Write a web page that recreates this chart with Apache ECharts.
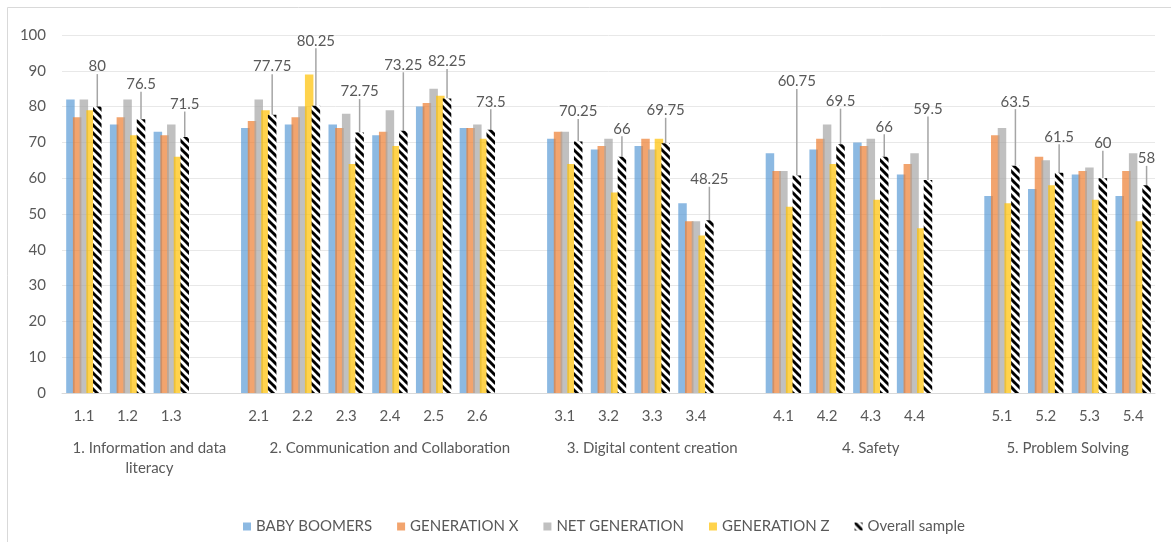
<!DOCTYPE html>
<html>
<head>
<meta charset="utf-8">
<script src="https://cdn.jsdelivr.net/npm/echarts@6/dist/echarts.min.js"></script>
<style>
  html, body { margin: 0; padding: 0; background: #fff; }
  #chart { width: 1171px; height: 542px; }
</style>
</head>
<body>
<div id="chart"></div>
<script>
// competence areas and their sub-items
var groupNames = [
  '1. Information and data\nliteracy',
  '2. Communication and Collaboration',
  '3. Digital content creation',
  '4. Safety',
  '5. Problem Solving'
];
var subItems = [
  ['1.1', '1.2', '1.3'],
  ['2.1', '2.2', '2.3', '2.4', '2.5', '2.6'],
  ['3.1', '3.2', '3.3', '3.4'],
  ['4.1', '4.2', '4.3', '4.4'],
  ['5.1', '5.2', '5.3', '5.4']
];
var seriesNames = ['BABY BOOMERS', 'GENERATION X', 'NET GENERATION', 'GENERATION Z', 'Overall sample'];

var babyBoomers   = [82, 75, 73,  74, 75, 75, 72, 80, 74,  71, 68, 69, 53,  67, 68, 70, 61,  55, 57, 61, 55];
var generationX   = [77, 77, 72,  76, 77, 74, 73, 81, 74,  73, 69, 71, 48,  62, 71, 69, 64,  72, 66, 62, 62];
var netGeneration = [82, 82, 75,  82, 80, 78, 79, 85, 75,  73, 71, 68, 48,  62, 75, 71, 67,  74, 65, 63, 67];
var generationZ   = [79, 72, 66,  79, 89, 64, 69, 83, 71,  64, 56, 71, 44,  52, 64, 54, 46,  53, 58, 54, 48];
var overallSample = [80, 76.5, 71.5,  77.75, 80.25, 72.75, 73.25, 82.25, 73.5,  70.25, 66, 69.75, 48.25,  60.75, 69.5, 66, 59.5,  63.5, 61.5, 60, 58];

// how far (px) each overall label sits above its bar (hand placed in the original)
var labelLift = [40, 35, 33,  48, 65, 41, 66, 37, 28,  30, 28, 33, 41,  94, 43, 30, 71,  64, 36, 35, 27];

// build category list with an empty slot after each group
var categories = [];
var groupCenter = {};
var pos = 0;
subItems.forEach(function (items, g) {
  items.forEach(function (it) { categories.push(it); });
  var last = g === subItems.length - 1;
  groupCenter[pos + (items.length - 1) / 2 + (last ? 0 : 0.5)] = groupNames[g];
  pos += items.length;
  if (!last) { categories.push(''); pos++; }
});

function padded(arr) {
  var out = [], k = 0;
  categories.forEach(function (c) { out.push(c === '' ? null : arr[k++]); });
  return out;
}
var liftPadded = padded(labelLift);

// black diagonal stripes on white, like Excel's wide downward diagonal
var stripe = document.createElement('canvas');
stripe.width = 8; stripe.height = 8;
var ctx = stripe.getContext('2d');
ctx.fillStyle = '#fff';
ctx.fillRect(0, 0, 8, 8);
ctx.strokeStyle = '#000';
ctx.lineWidth = 3;
[-8, 0, 8].forEach(function (k) {
  ctx.beginPath();
  ctx.moveTo(k - 1, -1);
  ctx.lineTo(k + 9, 9);
  ctx.stroke();
});

var colors = ['rgba(91,155,213,0.7)', 'rgba(237,125,49,0.7)', 'rgba(165,165,165,0.7)', 'rgba(255,192,0,0.7)'];
var groupsData = [babyBoomers, generationX, netGeneration, generationZ];

var series = groupsData.map(function (arr, i) {
  return {
    name: seriesNames[i],
    type: 'bar',
    data: padded(arr),
    barWidth: 8.5,
    barGap: '-21%',
    itemStyle: { color: colors[i] }
  };
});
series.push({
  name: seriesNames[4],
  type: 'bar',
  data: padded(overallSample),
  barWidth: 8.5,
  barGap: '-21%',
  itemStyle: { color: { image: stripe, repeat: 'repeat' } },
  label: {
    show: true,
    position: 'top',
    distance: 5,
    color: '#595959',
    fontSize: 15,
    fontFamily: 'Lato'
  },
  labelLine: {
    show: true,
    lineStyle: { color: '#a5a5a5', width: 1.5 }
  },
  labelLayout: function (p) {
    var lift = liftPadded[p.dataIndex];
    if (lift == null) return {};
    return { dy: (p.rect.y - lift) - (p.labelRect.y + p.labelRect.height / 2) };
  }
});

var myChart = echarts.init(document.getElementById('chart'));
var option = {
  animation: false,
  backgroundColor: '#fff',
  textStyle: { fontFamily: 'Lato' },
  graphic: [{
    type: 'rect',
    shape: { x: 7.5, y: 7.5, width: 1300, height: 700 },
    style: { fill: 'none', stroke: '#d9d9d9', lineWidth: 1 },
    silent: true
  }],
  grid: { left: 62, right: 16, top: 35, bottom: 149 },
  legend: {
    top: 514,
    left: 238,
    icon: 'rect',
    itemWidth: 8,
    itemHeight: 8,
    itemGap: 25,
    textStyle: { color: '#595959', fontSize: 15 },
    data: seriesNames
  },
  xAxis: [{
    type: 'category',
    data: categories,
    axisTick: { show: false },
    axisLine: { lineStyle: { color: '#d9d9d9' } },
    axisLabel: { interval: 0, color: '#595959', fontSize: 15, margin: 16 }
  }, {
    type: 'value',
    position: 'bottom',
    min: -0.5,
    max: 24.5,
    interval: 0.5,
    axisLine: { show: false },
    axisTick: { show: false },
    splitLine: { show: false },
    axisLabel: {
      color: '#595959',
      fontSize: 15,
      lineHeight: 20,
      margin: 45,
      formatter: function (v) { return groupCenter[v] || ''; }
    }
  }],
  yAxis: {
    type: 'value',
    min: 0,
    max: 100,
    interval: 10,
    axisLine: { show: false },
    axisTick: { show: false },
    axisLabel: { color: '#595959', fontSize: 15, margin: 16 },
    splitLine: { lineStyle: { color: '#e8e8e8' } }
  },
  series: series
};
myChart.setOption(option);
</script>
</body>
</html>
